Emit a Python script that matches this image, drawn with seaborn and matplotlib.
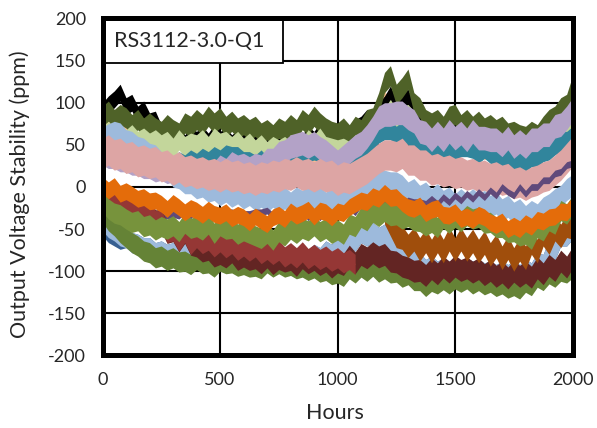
import numpy as np
import pandas as pd
import matplotlib
matplotlib.use("Agg")
import matplotlib.pyplot as plt
import seaborn as sns
from matplotlib.patches import Rectangle

# Sampling times (hours) shared by every unit
hours = np.arange(0, 2001, 25)

# Output voltage drift of each unit, ppm (None = no reading logged)
light_orange = [82, 76, 74, 64, 64, 54, 56, 46, 48, 38,
                40, 30, 32, 28, 30, 26, 30, 26, 28, 26,
                32, 28, 30, 28, 32, 30, 36, 28, 34, 32,
                38, 28, 36, 34, 38, 32, 38, 34, 40, 30,
                34, 32, 40, 40, 48, 52, 70, 80, 104, 92,
                90, 74, 88, 76, 70, 56, 60, 48, 58, 44,
                54, 48, 50, 46, 52, 42, 48, 44, 48, 38,
                48, 38, 44, 40, 50, 48, 60, 58, 74, 72, 82]
black = [90, 98, 104, 112, 96, 100, 86, 92, 78, 80,
         64, 70, 56, 60, 52, 60, 56, 62, 54, 64,
         56, 60, 52, 58, 54, 56, 50, 56, 46, 52,
         48, 54, 50, 56, 52, 62, 56, 66, 54, 56,
         52, 60, 62, 70, 74, 82, 74, 90, 98, 110,
         94, 104, 106, 90, 76, 72, 62, 70, 58, 72,
         68, 66, 58, 66, 60, 64, 54, 62, 52, 58,
         48, 54, 48, 56, 50, 60, 64, 72, 76, 88, 100]
dark_olive = [84, 90, 80, 86, 82, 74, 80, 70, 76, 70,
              66, 74, 68, 64, 76, 72, 80, 74, 84, 76,
              82, 72, 78, 70, 74, 68, 72, 64, 68, 62,
              70, 66, 74, 68, 80, 74, 84, 76, 70, 66,
              64, 70, 62, 72, 68, 80, 82, 100, 124, 132,
              110, 118, 128, 100, 94, 80, 76, 80, 72, 84,
              86, 74, 80, 72, 78, 70, 74, 68, 72, 64,
              66, 62, 60, 66, 62, 72, 80, 84, 94, 98, 120]
light_green = [60, 66, 58, 62, 56, 62, 54, 58, 52, 56,
               50, 54, 46, 56, 48, 52, 50, 56, 48, 58,
               52, 54, 48, 54, 46, 52, 44, 50, 42, 48,
               44, 48, 42, 50, 46, 56, 50, 58, 48, 46,
               44, 46, 42, 50, 50, 58, 60, 74, 82, 92,
               80, 84, 86, 78, 64, 62, 54, 60, 52, 60,
               58, 58, 50, 56, 48, 56, 48, 54, 46, 52,
               44, 50, 44, 52, 46, 54, 54, 62, 64, 74, 86]
teal = [50, 56, 52, 54, 46, 46, 40, 38, 32, 32,
        28, 30, 24, 30, 26, 32, 28, 34, 30, 36,
        32, 38, 36, 36, 30, 30, 26, 32, 24, 30,
        34, 38, 42, 46, 40, 42, 44, 42, 36, 30,
        24, 28, 24, 32, 40, 50, 56, 64, 68, 68,
        60, 66, 62, 56, 46, 42, 34, 40, 32, 42,
        42, 48, 48, 46, 40, 46, 40, 38, 32, 36,
        30, 30, 30, 36, 36, 42, 44, 50, 54, 54, 60]
lilac = [40, 36, 36, 32, 32, 28, 28, 24, 24, 20,
         22, 18, 20, 18, 20, 16, 20, 14, 18, 16,
         24, 20, 28, 24, 26, 22, 26, 24, 32, 32,
         40, 42, 48, 50, 52, 48, 52, 46, 42, 36,
         30, 36, 42, 48, 52, 60, 70, 82, 86, 86,
         88, 88, 82, 78, 66, 64, 56, 64, 56, 66,
         58, 64, 56, 66, 58, 58, 56, 56, 50, 58,
         48, 54, 48, 56, 56, 62, 62, 72, 74, 82, 92]
sky_blue = [58, 62, 65, 63, 55, 53, 47, 45, 39, 37,
            29, 23, 13, 11, 5, 5, -1, 1, -5, -3,
            -9, -5, -11, -7, -13, -9, -15, -11, -17, -11,
            -17, -13, -19, -13, -17, -11, -17, -13, -19, -15,
            -21, -13, -11, -9, -7, -1, 1, 7, 7, 5,
            5, 1, -7, -3, -11, -7, -15, -9, -17, -13,
            -21, -15, -21, -15, -21, -17, -23, -19, -27, -23,
            -31, -27, -35, -29, -33, -25, -21, -15, -11, -3, 2]
rose = [40, 44, 38, 40, 34, 36, 30, 32, 28, 30,
        24, 26, 20, 24, 18, 20, 16, 18, 14, 16,
        12, 16, 12, 14, 10, 12, 8, 12, 10, 14,
        12, 16, 14, 18, 14, 16, 12, 16, 12, 14,
        8, 12, 10, 14, 18, 22, 28, 34, 38, 38,
        36, 40, 32, 32, 26, 26, 20, 22, 18, 20,
        16, 18, 14, 16, 12, 14, 10, 12, 8, 10,
        4, 6, 2, 6, 8, 12, 14, 20, 26, 34, 42]
plum = [4, -6, -6, -14, -14, -22, -20, -28, -26, -32,
        -32, -34, -32, -34, -28, -34, -26, -32, -26, -34,
        -28, -30, -30, -32, -32, -32, -30, -30, -28, -34,
        -28, -36, -28, -34, -28, -36, -30, -36, -28, -34,
        -26, -32, -24, -30, -20, -28, -18, -24, -16, -22,
        -14, -22, -16, -18, -18, -20, -14, -20, -12, -18,
        -10, -16, -8, -14, -6, -12, -4, -10, 0, -6,
        -10, 0, -8, 0, 0, 8, 8, 16, 18, 26, 28]
pale_blue = [-40, -48, -52, -58, -60, -66, -68, -72, -72, -78,
             -76, -80, -78, -82, -76, -80, -74, -80, -76, -82,
             -78, -84, -78, -86, -80, -86, -82, -88, -82, -88,
             -84, -88, -82, -86, -80, -86, -80, -84, -76, -80,
             -70, -72, -60, -64, -54, -58, -54, -60, -56, -64,
             -68, -76, -76, -86, -90, -98, -94, -100, -96, -100,
             -96, -100, -96, -100, -98, -102, -100, -104, -100, -104,
             -100, -104, -98, -102, -90, -92, -74, -74, -58, -58, -50]
steel_blue = [-46, -54, -58, -62, -60, -66, -68, -72, -72, -78,
              -76, -80, -78, -82, -76, -80, -74, -80, -76, -82,
              -78, -84, -78, -86, -80, -86, -82, -88, -82, -88,
              -84, -88, -82, -86, -80, -86, -80, -84, -76, -80,
              -70, -72, -60, -64, -54, -58, -54, -60, -56, -64,
              -68, -76, -76, -86, -90, -98, -94, -100, -96, -100,
              -96, -100, -96, -100, -98, -102, -100, -104, -100, -104,
              -100, -104, -98, -102, -90, -92, -74, -74, -58, -58, -50]
moss = [-30, -40, -46, -54, -60, -66, -70, -76, -78, -84,
        -82, -87, -84, -89, -88, -92, -86, -91, -90, -95,
        -88, -91, -90, -94, -92, -95, -94, -97, -90, -95,
        -91, -95, -93, -97, -95, -99, -96, -101, -99, -104,
        -102, -106, -97, -102, -95, -100, -94, -101, -97, -102,
        -101, -107, -104, -111, -111, -118, -112, -115, -110, -115,
        -109, -113, -109, -115, -111, -116, -113, -118, -115, -120,
        -117, -121, -113, -117, -107, -111, -103, -107, -100, -102, -96]
maroon = [-10, -18, -16, -26, -18, -28, -20, -30, -28, -40,
          -40, -54, -52, -64, -54, -68, -70, -76, -74, -82,
          -79, -83, -77, -86, -82, -86, -84, -90, -83, -91,
          -85, -88, -86, -93, -84, -90, -86, -92, -88, -95,
          -89, -92, -82, -90, -80, -84, -78, -83, -80, -88,
          -89, -94, -96, -100, -99, -105, -97, -103, -95, -101,
          -94, -99, -96, -101, -97, -104, -99, -106, -101, -108,
          -100, -106, -101, -107, -96, -103, -93, -99, -88, -95, -84]
brick = [-10, -18, -16, -26, -18, -28, -20, -30, -28, -40,
         -40, -54, -52, -64, -54, -68, -60, -67, -63, -71,
         -65, -72, -67, -75, -70, -76, -71, -79, -74, -80,
         -75, -83, -78, -84, -77, -85, -80, -86, -82, -88,
         -84, -90, -86, -92, None, None, None, None, None, None,
         None, None, None, None, None, None, None, None, None, None,
         None, None, None, None, None, None, None, None, None, None,
         None, None, None, None, None, None, None, None, None, None, None]
rust = [None, None, None, None, None, None, None, None, None, None,
        None, None, None, None, None, None, None, None, None, None,
        None, None, None, None, None, None, None, None, None, None,
        None, None, None, None, None, None, None, None, None, None,
        None, None, None, None, None, None, None, None, -30, -44,
        -58, -60, -70, -62, -74, -64, -76, -64, -76, -62,
        -74, -62, -74, -64, -76, -66, -80, -70, -84, -72,
        -86, -74, -84, -66, -76, -56, -66, -50, -58, -46, -48]
green = [-18, -26, -31, -33, -38, -42, -40, -47, -45, -51,
         -47, -50, -46, -53, -43, -49, -47, -51, -44, -55,
         -46, -50, -49, -56, -52, -55, -58, -61, -55, -63,
         -53, -58, -50, -55, -49, -52, -46, -53, -49, -55,
         -51, -56, -44, -47, -36, -40, -30, -35, -29, -34,
         -33, -38, -35, -40, -41, -46, -42, -48, -37, -43,
         -36, -41, -34, -38, -36, -43, -42, -48, -48, -54,
         -53, -58, -56, -62, -48, -52, -40, -44, -28, -32, -22]
orange = [2, -4, 1, -8, -5, -9, -14, -12, -17, -16,
          -20, -26, -19, -24, -30, -25, -28, -33, -27, -32,
          -34, -30, -37, -33, -36, -42, -35, -40, -44, -36,
          -33, -38, -29, -34, -31, -27, -35, -28, -30, -36,
          -29, -31, -24, -20, -16, -18, -11, -14, -7, -13,
          -12, -19, -24, -26, -22, -31, -27, -25, -33, -34,
          -30, -38, -35, -39, -33, -36, -42, -45, -41, -50,
          -46, -50, -43, -47, -39, -41, -36, -35, -29, -30, -22]

x_ticks = [0, 500, 1000, 1500, 2000]
y_ticks = [-200, -150, -100, -50, 0, 50, 100, 150, 200]
chart_label = "RS3112-3.0-Q1"

# Drawing order (later units paint over earlier ones), colour, and the
# vertical smear of each trace's ripple in ppm
units = [
    (light_orange, "#FAC090", 10),
    (black, "#000000", 10),
    (dark_olive, "#4F6228", 12),
    (light_green, "#C3D69B", 12),
    (teal, "#31859C", 12),
    (lilac, "#B3A2C7", 14),
    (sky_blue, "#9DBADC", 13),
    (rose, "#DDA5A4", 18),
    (plum, "#604A7B", 4),
    (steel_blue, "#376092", 12),
    (pale_blue, "#9DBADC", 12),
    (moss, "#658336", 12),
    (maroon, "#632523", 13),
    (brick, "#953735", 12),
    (rust, "#A04E0C", 14),
    (green, "#77933C", 12),
    (orange, "#E46C0A", 10),
]

sns.set_style("white")
plt.rcParams["font.family"] = ["Lato", "DejaVu Sans"]

fig = plt.figure(figsize=(5.97, 4.28), dpi=100)
ax = fig.add_axes([0.1717, 0.1694, 0.7873, 0.7874])

for values, color, ripple in units:
    ppm = pd.Series(values, dtype="float64")
    ax.fill_between(hours, ppm - ripple, ppm + ripple, color=color,
                    linewidth=0, zorder=2)
    sns.lineplot(x=hours, y=ppm, color=color, linewidth=1.0,
                 estimator=None, ax=ax, legend=False, zorder=2)

ax.set_xlim(0, 2000)
ax.set_ylim(-200, 200)
ax.set_xticks(x_ticks)
ax.set_yticks(y_ticks)
ax.set_xticklabels([str(t) for t in x_ticks])
ax.set_yticklabels([str(t) for t in y_ticks])
ax.grid(True, color="black", linewidth=1.5)
ax.set_axisbelow(True)
ax.tick_params(axis="both", length=0, labelsize=13, colors="#262626")
ax.tick_params(axis="x", pad=12)
ax.tick_params(axis="y", pad=12)
for spine in ax.spines.values():
    spine.set_visible(True)
    spine.set_color("black")
    spine.set_linewidth(3.6)
    spine.set_zorder(10)

ax.set_xlabel("Hours", fontsize=15.5, color="#262626", va="center")
ax.set_ylabel("Output Voltage Stability (ppm)", fontsize=15.5, color="#262626", va="center")
ax.xaxis.set_label_coords(0.495, -0.172)
ax.yaxis.set_label_coords(-0.176, 0.48)

box = Rectangle((0.004, 0.867), 0.38, 0.133, transform=ax.transAxes,
                facecolor="white", edgecolor="black", linewidth=1.3, zorder=8)
ax.add_patch(box)
ax.text(0.025, 0.933, chart_label, transform=ax.transAxes, fontsize=15.5,
        color="#262626", va="center", ha="left", zorder=9)

fig.savefig("out.png", dpi=100)
